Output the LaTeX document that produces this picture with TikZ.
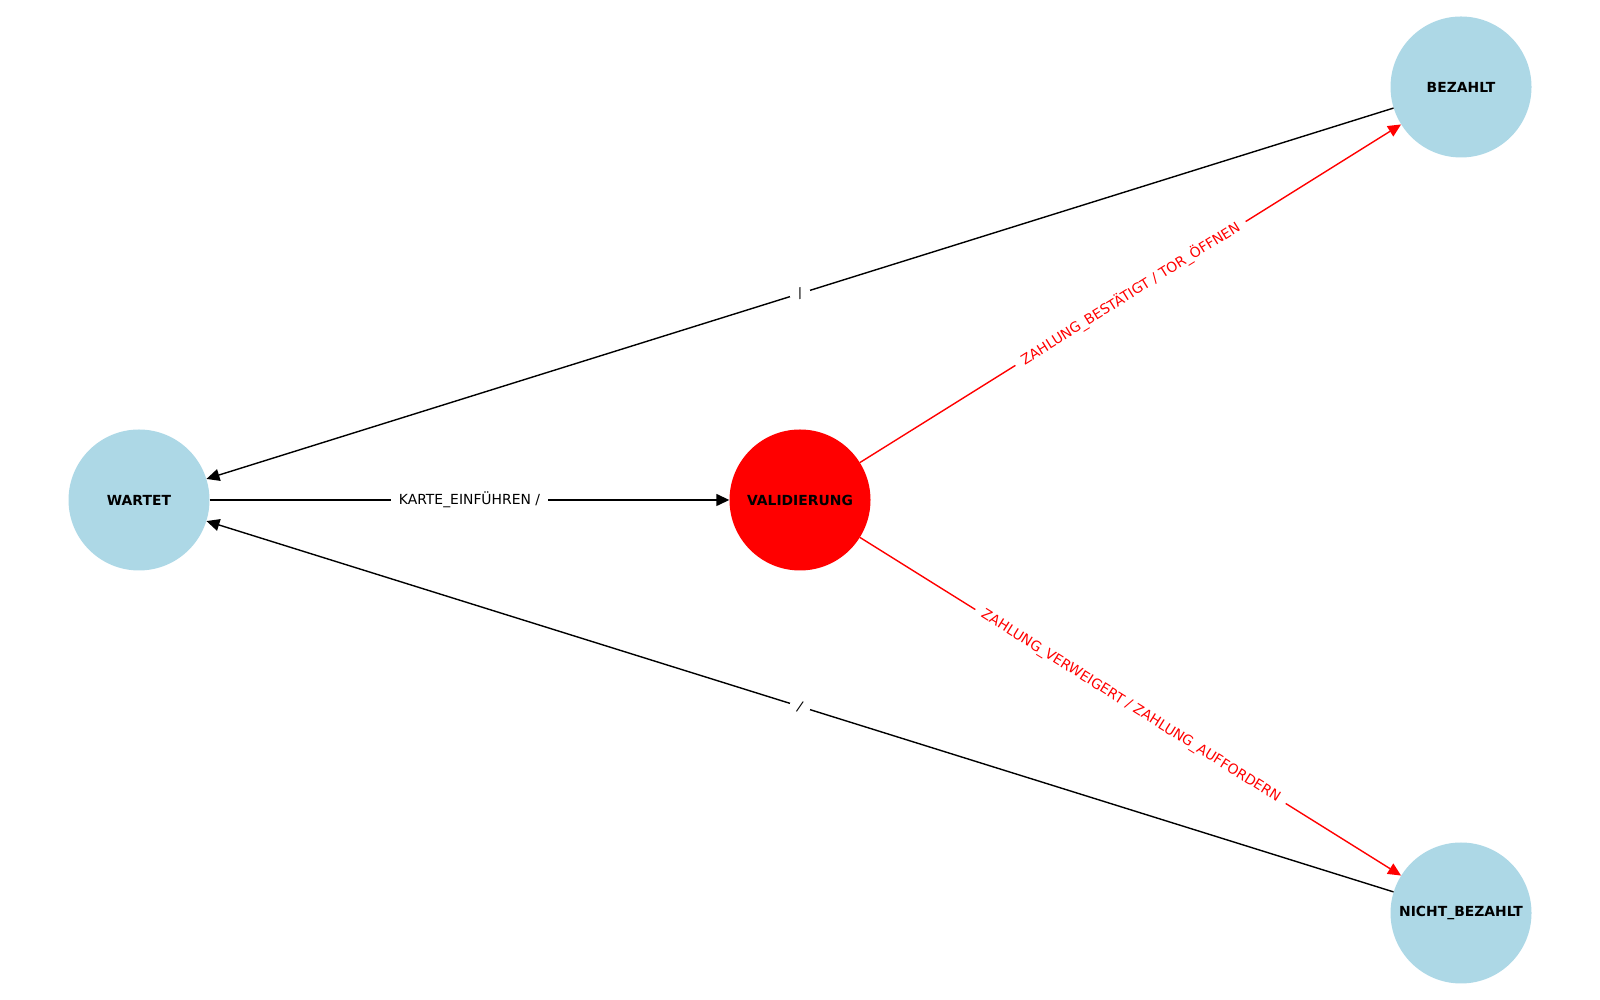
\documentclass[tikz,border=0pt]{standalone}
\usepackage{fontspec}
\setmainfont{DejaVu Sans}
\usetikzlibrary{arrows.meta}
\definecolor{lightblue}{HTML}{ADD8E6}
\definecolor{statered}{rgb}{1,0,0}

\begin{document}
\begin{tikzpicture}[x=1pt, y=1pt,
	state/.style={circle, minimum size=141pt, inner sep=0pt, font=\fontsize{13.9}{16}\selectfont\bfseries},
	trans/.style={line width=1.4pt, -{Triangle[length=13pt, width=12pt]}},
	lbl/.style={fill=white, inner xsep=8pt, inner ysep=2pt, sloped, font=\fontsize{13.9}{16}\selectfont}]
	\useasboundingbox (0,0) rectangle (1600,1000);
	
	% states
	\node[state, fill=lightblue] (wartet) at (139,500) {WARTET};
	\node[state, fill=statered] (valid) at (800,500) {VALIDIERUNG};
	\node[state, fill=lightblue] (bezahlt) at (1461,913) {BEZAHLT};
	\node[state, fill=lightblue] (nicht) at (1461,87) {NICHT\_BEZAHLT};
	
	% transitions
	\draw[trans] (wartet) -- node[lbl] {KARTE\_EINFÜHREN /} (valid);
	\draw[trans] (bezahlt) -- node[lbl] {/} (wartet);
	\draw[trans] (nicht) -- node[lbl] {/} (wartet);
	\draw[trans, statered] (valid) -- node[lbl] {ZAHLUNG\_BESTÄTIGT / TOR\_ÖFFNEN} (bezahlt);
	\draw[trans, statered] (valid) -- node[lbl] {ZAHLUNG\_VERWEIGERT / ZAHLUNG\_AUFFORDERN} (nicht);
\end{tikzpicture}
\end{document}
